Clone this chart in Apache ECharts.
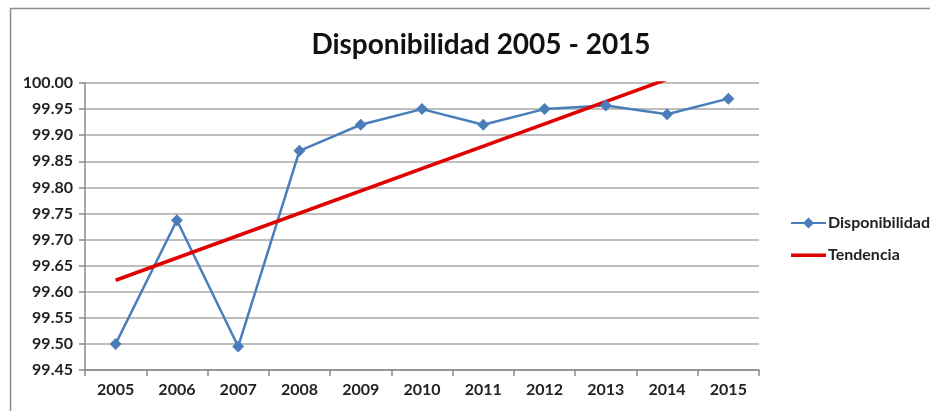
<!DOCTYPE html>
<html><head><meta charset="utf-8">
<script src="https://cdn.jsdelivr.net/npm/echarts@6/dist/echarts.min.js"></script>
<style>html,body{margin:0;padding:0;background:#fff}#c{width:930px;height:411px}</style>
</head><body><div id="c"></div>
<script>
var years = ['2005','2006','2007','2008','2009','2010','2011','2012','2013','2014','2015'];
var disponibilidad = [99.50, 99.737, 99.495, 99.87, 99.92, 99.95, 99.92, 99.95, 99.957, 99.94, 99.97];
var tendenciaStart = 99.622;
var tendenciaEnd = 100.05;
var yMin = 99.45, yMax = 100.00, yStep = 0.05;

var font = 'Lato, "Open Sans", sans-serif';
var chart = echarts.init(document.getElementById('c'));
chart.setOption({
  animation: false,
  backgroundColor: '#fff',
  title: {
    text: 'Disponibilidad 2005 - 2015',
    left: 476, top: 26, textAlign: 'center',
    textStyle: {fontFamily: font, fontWeight: 'bold', fontSize: 28, color: '#111'}
  },
  graphic: [{
    type: 'rect', shape: {x: 10.5, y: 8.5, width: 940, height: 420},
    style: {fill: 'none', stroke: '#8c8c8c', lineWidth: 1.5}, silent: true
  }],
  legend: {
    orient: 'vertical', left: 785, top: 210,
    itemWidth: 35, itemHeight: 14, itemGap: 16,
    textStyle: {fontFamily: font, fontWeight: 'bold', fontSize: 16, color: '#222', padding: [0,0,0,-3]},
    data: [{name: 'Disponibilidad'},
           {name: 'Tendencia', icon: 'path://M0,0 M35,14 M0,5.5 L35,5.5 L35,9 L0,9 Z'}]
  },
  grid: {left: 85, right: 171, top: 83, bottom: 41},
  xAxis: {
    type: 'category', data: years, boundaryGap: true,
    axisLine: {lineStyle: {color: '#8a8a8a', width: 1.5}},
    axisTick: {show: true, length: 6, lineStyle: {color: '#8a8a8a', width: 1.5}},
    axisLabel: {fontFamily: font, fontWeight: 'bold', fontSize: 16, color: '#222', margin: 12}
  },
  yAxis: {
    type: 'value', min: yMin, max: yMax, interval: yStep,
    axisLine: {show: true, lineStyle: {color: '#8a8a8a', width: 1.5}},
    axisTick: {show: true, length: 6, lineStyle: {color: '#8a8a8a', width: 1.5}},
    splitLine: {lineStyle: {color: '#a8a8a8', width: 1.5}},
    axisLabel: {fontFamily: font, fontWeight: 'bold', fontSize: 16, color: '#222', margin: 12,
      formatter: function(v){ return v.toFixed(2); }}
  },
  series: [{
    name: 'Disponibilidad', type: 'line', data: disponibilidad,
    symbol: 'diamond', symbolSize: 12,
    lineStyle: {color: '#4a7ebb', width: 2.5},
    itemStyle: {color: '#4a7ebb'}
  }, {
    name: 'Tendencia', type: 'line', clip: true,
    data: [[0, tendenciaStart], [years.length - 1, tendenciaEnd]],
    symbol: 'none',
    lineStyle: {color: '#e00000', width: 3.5},
    itemStyle: {color: '#e00000'}
  }]
});
</script></body></html>
